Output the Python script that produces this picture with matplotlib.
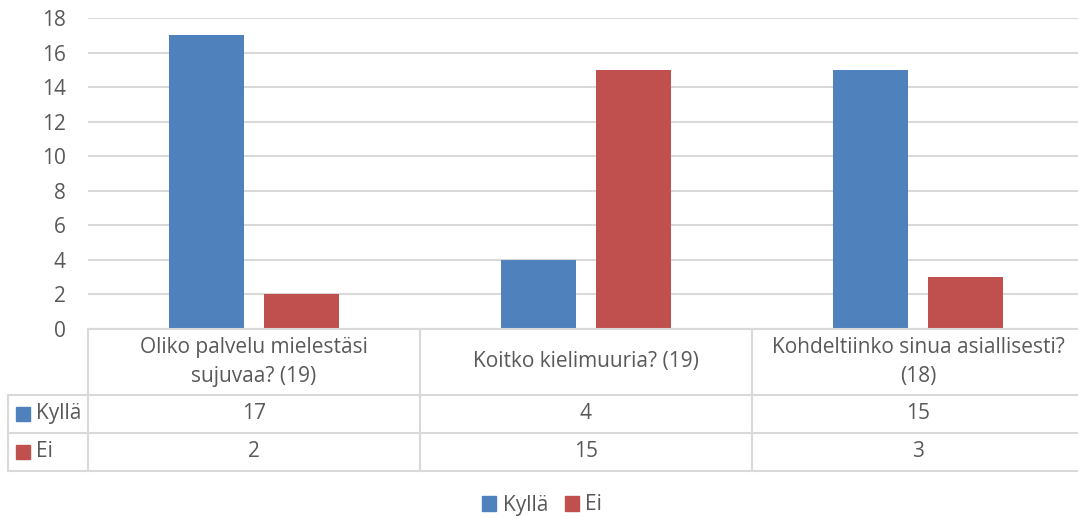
import matplotlib
matplotlib.use("Agg")
import matplotlib.pyplot as plt
from matplotlib.patches import Rectangle

categories = ["Oliko palvelu mielestäsi\nsujuvaa? (19)", "Koitko kielimuuria? (19)",
              "Kohdeltiinko sinua asiallisesti?\n(18)"]
series_names = ["Kyllä", "Ei"]
kylla = [17, 4, 15]
ei = [2, 15, 3]
colors = ["#4F81BD", "#C0504D"]
yticks = [0, 2, 4, 6, 8, 10, 12, 14, 16, 18]

plt.rcParams['font.family'] = ['Open Sans', 'DejaVu Sans']
TXT = "#595959"
GRID = "#D9D9D9"
FS = 15
W, H = 1078, 518
fig = plt.figure(figsize=(W / 100, H / 100), dpi=100)

L, R = 88, 1084
top, bot = 18, 329
ax = fig.add_axes([L / W, 1 - bot / H, (R - L) / W, (bot - top) / H])
n = len(categories)
x = list(range(n))
bw = 0.226
off = 0.143
ax.bar([i - off for i in x], kylla, bw, color=colors[0], zorder=3)
ax.bar([i + off for i in x], ei, bw, color=colors[1], zorder=3)
ax.set_xlim(-0.5, n - 0.5)
ax.set_ylim(0, 18)
ax.set_yticks(yticks)
ax.set_yticklabels([str(t) for t in yticks], color=TXT, fontsize=FS)
ax.set_xticks([])
ax.tick_params(axis='y', length=0, pad=16)
ax.grid(axis='y', color=GRID, linewidth=1.5, zorder=0)
for s in ax.spines.values():
    s.set_visible(False)

# Table
tL, tT, tB = 8, 329, 471
unit = (R - L) / n
tax = fig.add_axes([tL / W, 1 - tB / H, (R - tL) / W, (tB - tT) / H])
tax.set_xlim(-0.5 - (L - tL) / unit, n - 0.5)
tax.set_ylim(tB, tT)
tax.axis('off')
x0 = -0.5 - (L - tL) / unit
rows = [395, 433, 471]
lk = dict(color=GRID, linewidth=1.5, clip_on=False)
tax.plot([-0.5, n - 0.5], [tT, tT], **lk)
for yv in rows:
    tax.plot([x0, n - 0.5], [yv, yv], **lk)
tax.plot([x0, x0], [rows[0], tB], **lk)
for i in range(n):
    tax.plot([i - 0.5, i - 0.5], [tT, tB], **lk)
for i, c in enumerate(categories):
    tax.text(i, 362, c, ha='center', va='center', fontsize=FS, color=TXT, linespacing=1.45)
data = [kylla, ei]
for r, (name, vals, col) in enumerate(zip(series_names, data, colors)):
    yc = (rows[r] + rows[r + 1]) / 2
    for i, v in enumerate(vals):
        tax.text(i, yc, str(v), ha='center', va='center', fontsize=FS, color=TXT)
    sq_x = x0 + 8 / unit
    tax.add_patch(Rectangle((sq_x, yc - 7), 14 / unit, 14, color=col, clip_on=False))
    tax.text(sq_x + 20 / unit, yc, name, ha='left', va='center', fontsize=FS, color=TXT)

# Legend
handles = [Rectangle((0, 0), 1, 1, color=c) for c in colors]
fig.legend(handles, series_names, loc='center', bbox_to_anchor=(542 / W, 1 - 505 / H),
           ncol=2, frameon=False, fontsize=FS, labelcolor=TXT, handlelength=0.7,
           handleheight=0.7, handletextpad=0.3, columnspacing=0.8)

fig.savefig("out.png", dpi=100)
